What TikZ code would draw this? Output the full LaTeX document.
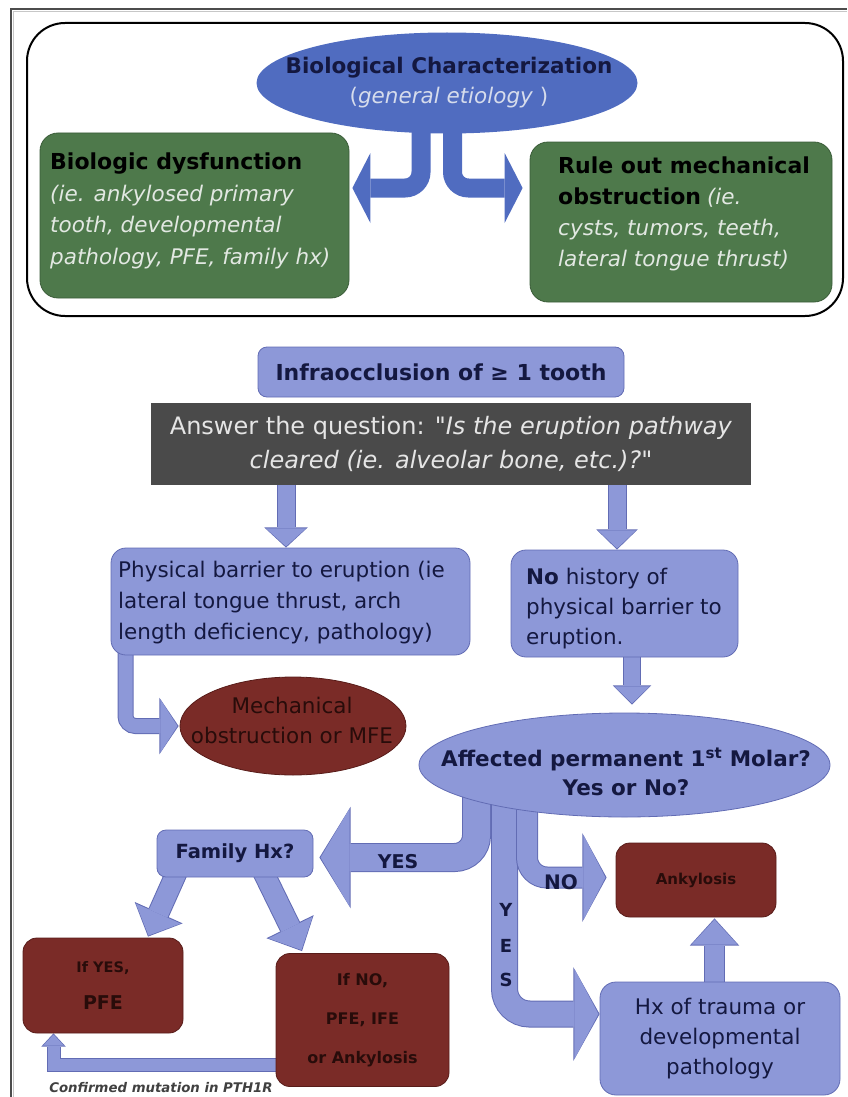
\documentclass[tikz,border=0pt]{standalone}
\usepackage{fontspec}
\setmainfont{DejaVu Sans}
\usetikzlibrary{arrows.meta,shapes.geometric,calc,backgrounds}
\definecolor{lav}{RGB}{141,152,216}
\definecolor{lavd}{RGB}{98,108,180}
\definecolor{dred}{RGB}{122,43,39}
\definecolor{dredd}{RGB}{88,28,25}
\definecolor{grn}{RGB}{78,121,75}
\definecolor{grnd}{RGB}{58,92,56}
\definecolor{blu}{RGB}{80,108,192}
\definecolor{dgray}{RGB}{74,74,74}
\definecolor{navy}{RGB}{20,24,64}
\definecolor{palet}{RGB}{226,232,226}
\definecolor{paleb}{RGB}{214,220,236}
\definecolor{rtext}{RGB}{40,12,10}
\newcommand\fsz[2]{\fontsize{#1}{#2}\selectfont}
\newcommand\sqt{{\addfontfeature{Ligatures=TeXOff}"}}
\newcommand\blockarrow[5]{%
  \pgfmathsetmacro\bwo{#1+2}\pgfmathsetmacro\bho{#2+3.5}\pgfmathsetmacro\blo{#3+2.2}%
  \draw[lavd, line width=\bwo pt, #4, -{Triangle[width=\bho pt, length=\blo pt, line width=0pt]}] #5;
  \draw[lav, line width=#1pt, #4, shorten >=1.2pt, -{Triangle[width=#2pt, length=#3pt, line width=0pt]}] #5;}
\begin{document}
\begin{tikzpicture}[x=1pt,y=-1pt,
  lbox/.style={rectangle, rounded corners=9pt, fill=lav, draw=lavd, line width=0.8pt, inner sep=0pt, text=navy, align=center},
  rbox/.style={rectangle, rounded corners=14pt, fill=dred, draw=dredd, line width=0.8pt, inner sep=0pt, text=rtext, align=center},
  gbox/.style={rectangle, rounded corners=18pt, fill=grn, draw=grnd, line width=0.8pt, inner sep=0pt},
  txt/.style={inner sep=0pt, align=left},
  ctxt/.style={inner sep=0pt, align=center},
  lbl/.style={inner sep=0pt, text=navy, font=\bfseries\fsz{19}{22}}]
\useasboundingbox (0,0) rectangle (847,1097);

% outer frame
\draw[black!70, line width=1.6pt] (11,1097) -- (11,9) -- (847,9);
\draw[black!22, line width=1.2pt] (13.8,1097) -- (13.8,11.8) -- (847,11.8);

% top panel
\node[draw=black, line width=2pt, rounded corners=38pt, minimum width=816pt, minimum height=293pt, inner sep=0pt] (panel) at (435,169.5) {};
\node[ellipse, fill=blu, minimum width=381pt, minimum height=101pt, inner sep=0pt] (bc) at (447,83) {};
\node[ctxt, font=\fsz{21.5}{30}] (bct) at (449,83) {\textbf{\color{navy}Biological Characterization}\\{\fsz{21.5}{30}\color{paleb}(\textit{general etiology} )}};

\node[gbox, minimum width=309pt, minimum height=165pt] (bio) at (194.5,215.5) {};
\node[txt, anchor=west, font=\fsz{21.5}{31.5}] (biot) at (50,211) {{\bfseries\fsz{22}{31.5}Biologic dysfunction}\\{\itshape\color{palet}(ie. ankylosed primary}\\{\itshape\color{palet}tooth, developmental}\\{\itshape\color{palet}pathology, PFE, family hx)}};

\node[gbox, minimum width=302pt, minimum height=160pt] (rmo) at (681,222) {};
\node[txt, anchor=west, font=\fsz{21.5}{31}] (rmot) at (558,214) {{\bfseries\fsz{22}{31}Rule out mechanical}\\{\bfseries\fsz{22}{31}obstruction}\hspace{6pt}{\itshape\color{palet}(ie.}\\{\itshape\color{palet}cysts, tumors, teeth,}\\{\itshape\color{palet}lateral tongue thrust)}};

% middle
\node[lbox, minimum width=366pt, minimum height=50pt, font=\bfseries\fsz{22}{25}] (inf) at (441,372) {Infraocclusion of ≥ 1 tooth};
\node[rectangle, fill=dgray, minimum width=600pt, minimum height=82pt, inner sep=0pt, text=white!90!black, align=center, font=\fsz{24}{34}] (q) at (451,444) {Answer the question: \textit{\sqt Is the eruption pathway}\\\textit{cleared (ie. alveolar bone, etc.)?\sqt}};

\node[lbox, minimum width=359pt, minimum height=107pt, rounded corners=15pt] (phys) at (290.5,601.5) {};
\node[txt, anchor=west, text=navy, font=\fsz{21.5}{31}] (physt) at (118,603) {Physical barrier to eruption (ie\\lateral tongue thrust, arch\\length deficiency, pathology)};

\node[lbox, minimum width=227pt, minimum height=107pt, rounded corners=15pt] (nh) at (624.5,603.5) {};
\node[txt, anchor=west, text=navy, font=\fsz{21.5}{30}] (nht) at (526,609) {\textbf{No} history of\\physical barrier to\\eruption.};

\node[ellipse, fill=dred, draw=dredd, line width=0.8pt, minimum width=226pt, minimum height=98pt, inner sep=0pt] (mech) at (293,726) {};
\node[ctxt, text=rtext, font=\fsz{21.5}{30}] (mecht) at (292,720) {Mechanical\\obstruction or MFE};

\node[ellipse, fill=lav, draw=lavd, line width=0.8pt, minimum width=411pt, minimum height=104pt, inner sep=0pt] (aff) at (624.5,765) {};
\node[ctxt, text=navy, font=\bfseries\fsz{21.5}{29}] (afft) at (626,772) {Affected permanent 1\textsuperscript{st} Molar?\\Yes or No?};

% bottom
\node[lbox, minimum width=156pt, minimum height=47pt, font=\bfseries\fsz{19.5}{23}] (famhx) at (235,853.5) {Family Hx?};
\node[rbox, minimum width=160pt, minimum height=74pt, font=\bfseries\fsz{15}{18}] (ank) at (696,880) {Ankylosis};
\node[lbox, minimum width=240pt, minimum height=113pt, rounded corners=16pt, font=\fsz{21.5}{30}] (hx) at (720,1038.5) {Hx of trauma or\\developmental\\pathology};
\node[rbox, minimum width=160pt, minimum height=95pt, font=\bfseries\fsz{14.5}{37}] (ifyes) at (103,985.5) {If YES,\\{\fsz{19}{37}PFE}};
\node[rbox, minimum width=173pt, minimum height=133pt, font=\bfseries\fsz{16}{39}] (ifno) at (362.5,1020) {If NO,\\PFE, IFE\\or Ankylosis};

\node[lbl] (lyes) at (398,862) {YES};
\node[lbl, font=\bfseries\fsz{20}{22}] (lno) at (561,882) {NO};
\node[lbl, font=\bfseries\fsz{18}{22}] (ly) at (506,910) {Y};
\node[lbl, font=\bfseries\fsz{18}{22}] (le) at (506,946) {E};
\node[lbl, font=\bfseries\fsz{18}{22}] (ls) at (506,980) {S};
\node[inner sep=0pt, text=black!75, font=\bfseries\itshape\fsz{13.3}{15}] (conf) at (161,1088) {Confirmed mutation in PTH1R};

\begin{scope}[on background layer]
\draw[blu, line width=19pt, rounded corners=16pt, -{Triangle[width=70pt,length=18pt,line width=0pt]}] ($(bc.south)+(-26,-6)$) |- ($(bio.east)+(3,-27.5)$);
\draw[blu, line width=19pt, rounded corners=16pt, -{Triangle[width=70pt,length=18pt,line width=0pt]}] ($(bc.south)+(5.5,-6)$) |- ($(rmo.west)+(-7,-34)$);
\blockarrow{17}{40}{18}{}{($(q.south)+(-165,-3)$) -- ($(phys.north)+(-4.5,0)$)}
\blockarrow{17}{38}{18}{}{($(q.south)+(166,-3)$) -- ($(nh.north)+(-7.5,0)$)}
\blockarrow{14}{53}{17}{rounded corners=10pt}{($(phys.south)+(-165,-3)$) |- ($(mech.west)+(-1,0)$)}
\blockarrow{16}{35}{17}{}{($(nh.south)+(7.5,-3)$) -- ($(aff.north)+(7.5,-8)$)}
\blockarrow{27}{98}{29}{rounded corners=22pt}{($(aff.south)+(-148,-25)$) |- ($(famhx.east)+(6,4)$)}
\blockarrow{25}{90}{24}{rounded corners=25pt}{($(aff.south)+(-120,-25)$) |- ($(hx.west)+(0,-24.5)$)}
\blockarrow{20}{85}{22}{rounded corners=20pt}{($(aff.south)+(-97.5,-25)$) |- ($(ank.west)+(-9,-2.5)$)}
\blockarrow{19}{46}{25}{}{($(hx.north)+(-5.5,3)$) -- ($(ank.south)+(18.5,1)$)}
\blockarrow{20}{49}{24}{}{($(famhx.south)+(-57,-8)$) -- ($(ifyes.north)+(45,-1)$)}
\blockarrow{20}{49}{25}{}{($(famhx.south)+(27,-8)$) -- ($(ifno.north)+(-60.5,-2)$)}
\blockarrow{12}{21}{11}{}{($(ifno.west)+(3,44.5)$) -| ($(ifyes.south)+(-49.5,0)$)}
\end{scope}
\end{tikzpicture}
\end{document}
